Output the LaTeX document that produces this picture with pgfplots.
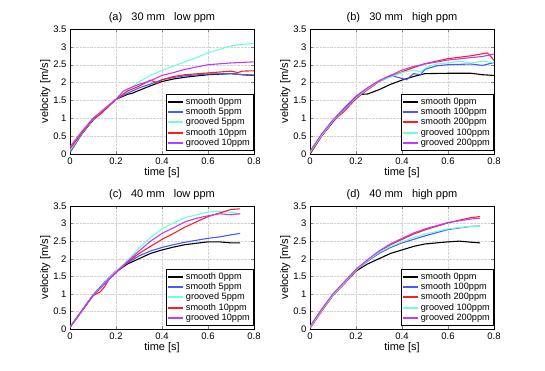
\documentclass[border=0pt]{standalone}
\usepackage{pgfplots}
\pgfplotsset{compat=1.18}
\usepackage{fontspec}
\setmainfont{Liberation Sans}

\definecolor{cblue}{RGB}{70,90,255}
\definecolor{ccyan}{RGB}{110,255,215}
\definecolor{cred}{RGB}{255,30,30}
\definecolor{cpurp}{RGB}{190,60,255}

\pgfplotsset{
  panel/.style={
    scale only axis,
    width=184pt, height=125pt,
    xmin=0, xmax=0.8, ymin=0, ymax=3.5,
    xtick={0,0.2,...,0.8}, ytick={0,0.5,...,3.5},
    tick align=inside, tick pos=both,
    major tick length=3pt,
    grid=major, major grid style={densely dotted, gray!35},
    /pgf/number format/assume math mode=true,
    ticklabel style={font=\fontsize{9.5}{10}\selectfont},
    label style={font=\fontsize{11}{12}\selectfont},
    title style={font=\fontsize{11}{12}\selectfont, yshift=-3pt},
    xlabel={time [s]}, ylabel={velocity [m/s]},
    xlabel style={yshift=4pt}, ylabel style={yshift=-4pt},
    legend style={font=\fontsize{9.2}{11}\selectfont, at={(0.995,0.03)}, anchor=south east,
      draw=black, inner sep=1pt, row sep=-1.8pt},
    legend cell align=left,
    legend image code/.code={\draw[#1, line width=2pt] (0pt,0pt) -- (15pt,0pt);},
    every axis plot/.append style={line width=1.1pt},
  }
}

\begin{document}
\begin{tikzpicture}
\useasboundingbox (0pt,0pt) rectangle (545pt,-371pt);

% (a)
\begin{axis}[panel, at={(70pt,-154pt)}, anchor=south west, title={(a)\ \ \ 30 mm\ \ \ low ppm}]
\addplot[black, no marks] coordinates {(0,0.05) (0.05,0.55) (0.1,0.95) (0.15,1.25) (0.2,1.53) (0.25,1.67) (0.27,1.7) (0.3,1.78) (0.35,1.91) (0.4,2.03) (0.45,2.1) (0.5,2.15) (0.6,2.22) (0.7,2.25) (0.75,2.22) (0.8,2.2)};
\addplot[cblue, no marks] coordinates {(0,0.05) (0.05,0.55) (0.1,0.97) (0.15,1.25) (0.2,1.53) (0.25,1.7) (0.3,1.85) (0.35,1.96) (0.4,2.08) (0.45,2.14) (0.5,2.19) (0.6,2.24) (0.7,2.25) (0.75,2.22) (0.8,2.21)};
\addplot[ccyan, no marks] coordinates {(0,0.1) (0.05,0.57) (0.1,0.97) (0.15,1.27) (0.2,1.53) (0.25,1.78) (0.3,2.02) (0.35,2.2) (0.4,2.34) (0.45,2.46) (0.5,2.58) (0.55,2.7) (0.6,2.83) (0.65,2.93) (0.7,3.03) (0.75,3.07) (0.8,3.1)};
\addplot[cred, no marks] coordinates {(0,0.15) (0.05,0.58) (0.1,0.98) (0.13,1.1) (0.15,1.22) (0.2,1.53) (0.25,1.76) (0.3,1.9) (0.33,2.0) (0.35,2.07) (0.38,1.98) (0.4,2.08) (0.45,2.17) (0.5,2.22) (0.6,2.27) (0.7,2.32) (0.73,2.28) (0.75,2.32) (0.8,2.33)};
\addplot[cpurp, no marks] coordinates {(0,0.2) (0.05,0.62) (0.1,1.0) (0.15,1.27) (0.2,1.53) (0.23,1.75) (0.25,1.82) (0.3,1.95) (0.35,2.05) (0.4,2.2) (0.45,2.28) (0.5,2.37) (0.6,2.5) (0.7,2.55) (0.8,2.58)};
\legend{smooth 0ppm, smooth 5ppm, grooved 5ppm, smooth 10ppm, grooved 10ppm}
\end{axis}

% (b)
\begin{axis}[panel, at={(310pt,-154pt)}, anchor=south west, title={(b)\ \ \ 30 mm\ \ \ high ppm}]
\addplot[black, no marks] coordinates {(0,0) (0.05,0.5) (0.1,0.9) (0.15,1.25) (0.2,1.55) (0.22,1.67) (0.25,1.68) (0.3,1.8) (0.35,1.95) (0.4,2.07) (0.45,2.17) (0.5,2.25) (0.6,2.26) (0.7,2.26) (0.75,2.22) (0.8,2.2)};
\addplot[cblue, no marks] coordinates {(0,0.05) (0.05,0.55) (0.1,0.95) (0.15,1.3) (0.2,1.62) (0.25,1.85) (0.3,2.05) (0.35,2.2) (0.38,2.15) (0.42,2.08) (0.45,2.25) (0.48,2.22) (0.5,2.37) (0.55,2.47) (0.6,2.5) (0.7,2.52) (0.75,2.48) (0.8,2.56)};
\addplot[cred, no marks] coordinates {(0,0.02) (0.05,0.5) (0.1,0.92) (0.15,1.2) (0.2,1.55) (0.25,1.8) (0.3,2.03) (0.35,2.17) (0.4,2.3) (0.45,2.42) (0.5,2.53) (0.6,2.67) (0.7,2.75) (0.77,2.83) (0.78,2.78) (0.8,2.62)};
\addplot[ccyan, no marks] coordinates {(0,0.05) (0.05,0.52) (0.1,0.93) (0.15,1.25) (0.2,1.58) (0.25,1.83) (0.3,2.05) (0.35,2.15) (0.4,2.28) (0.45,2.35) (0.48,2.3) (0.5,2.4) (0.55,2.52) (0.6,2.55) (0.65,2.6) (0.7,2.55) (0.75,2.6) (0.8,2.55)};
\addplot[cpurp, no marks] coordinates {(0,0.08) (0.05,0.55) (0.1,0.95) (0.15,1.27) (0.2,1.6) (0.25,1.85) (0.3,2.05) (0.35,2.2) (0.4,2.35) (0.45,2.45) (0.5,2.52) (0.6,2.63) (0.7,2.7) (0.75,2.73) (0.8,2.8)};
\legend{smooth 0ppm, smooth 100ppm, smooth 200ppm, grooved 100ppm, grooved 200ppm}
\end{axis}

% (c)
\begin{axis}[panel, at={(70pt,-329pt)}, anchor=south west, height=123pt, title={(c)\ \ \ 40 mm\ \ \ low ppm}]
\addplot[black, no marks] coordinates {(0,0.05) (0.05,0.5) (0.1,0.95) (0.15,1.3) (0.2,1.63) (0.25,1.85) (0.3,2.0) (0.35,2.15) (0.4,2.25) (0.45,2.33) (0.5,2.4) (0.6,2.48) (0.65,2.48) (0.7,2.45) (0.74,2.45)};
\addplot[cblue, no marks] coordinates {(0,0.05) (0.05,0.52) (0.1,0.97) (0.15,1.33) (0.2,1.65) (0.25,1.88) (0.3,2.08) (0.35,2.22) (0.4,2.32) (0.45,2.4) (0.5,2.47) (0.6,2.58) (0.65,2.62) (0.7,2.68) (0.74,2.72)};
\addplot[ccyan, no marks] coordinates {(0,0.05) (0.05,0.5) (0.1,0.95) (0.15,1.3) (0.2,1.63) (0.25,1.95) (0.3,2.3) (0.35,2.6) (0.4,2.85) (0.45,3.02) (0.5,3.17) (0.55,3.25) (0.6,3.33) (0.65,3.35) (0.7,3.32) (0.74,3.28)};
\addplot[cred, no marks] coordinates {(0,0.05) (0.05,0.5) (0.1,0.95) (0.13,1.05) (0.15,1.2) (0.17,1.42) (0.2,1.6) (0.25,1.9) (0.3,2.15) (0.35,2.35) (0.4,2.55) (0.45,2.72) (0.5,2.9) (0.55,3.05) (0.6,3.2) (0.65,3.3) (0.7,3.4) (0.74,3.42)};
\addplot[cpurp, no marks] coordinates {(0,0.05) (0.05,0.5) (0.1,0.95) (0.15,1.28) (0.2,1.62) (0.25,1.92) (0.3,2.22) (0.35,2.5) (0.4,2.72) (0.45,2.88) (0.5,3.05) (0.55,3.15) (0.6,3.22) (0.65,3.28) (0.7,3.25) (0.74,3.28)};
\legend{smooth 0ppm, smooth 5ppm, grooved 5ppm, smooth 10ppm, grooved 10ppm}
\end{axis}

% (d)
\begin{axis}[panel, at={(310pt,-329pt)}, anchor=south west, height=123pt, title={(d)\ \ \ 40 mm\ \ \ high ppm}]
\addplot[black, no marks] coordinates {(0,0.05) (0.05,0.52) (0.1,0.97) (0.15,1.3) (0.2,1.65) (0.25,1.85) (0.3,2.0) (0.35,2.15) (0.4,2.25) (0.45,2.35) (0.5,2.42) (0.6,2.48) (0.65,2.5) (0.7,2.47) (0.74,2.45)};
\addplot[cblue, no marks] coordinates {(0,0.05) (0.05,0.55) (0.1,0.98) (0.15,1.33) (0.2,1.68) (0.25,1.93) (0.3,2.15) (0.35,2.32) (0.4,2.45) (0.45,2.55) (0.5,2.65) (0.6,2.83) (0.7,2.92) (0.74,2.93)};
\addplot[cred, no marks] coordinates {(0,0.02) (0.05,0.5) (0.1,0.95) (0.15,1.3) (0.2,1.66) (0.25,1.95) (0.3,2.2) (0.35,2.4) (0.4,2.55) (0.45,2.7) (0.5,2.82) (0.6,3.02) (0.7,3.17) (0.74,3.2)};
\addplot[ccyan, no marks] coordinates {(0,0.05) (0.05,0.53) (0.1,0.97) (0.15,1.32) (0.2,1.68) (0.25,1.95) (0.3,2.18) (0.35,2.35) (0.4,2.48) (0.45,2.6) (0.5,2.7) (0.6,2.85) (0.7,2.92) (0.74,2.92)};
\addplot[cpurp, no marks] coordinates {(0,0.08) (0.05,0.56) (0.1,1.0) (0.15,1.35) (0.2,1.7) (0.25,1.97) (0.3,2.22) (0.35,2.42) (0.4,2.58) (0.45,2.73) (0.5,2.85) (0.6,3.03) (0.7,3.13) (0.74,3.15)};
\legend{smooth 0ppm, smooth 100ppm, smooth 200ppm, grooved 100ppm, grooved 200ppm}
\end{axis}
\end{tikzpicture}
\end{document}
